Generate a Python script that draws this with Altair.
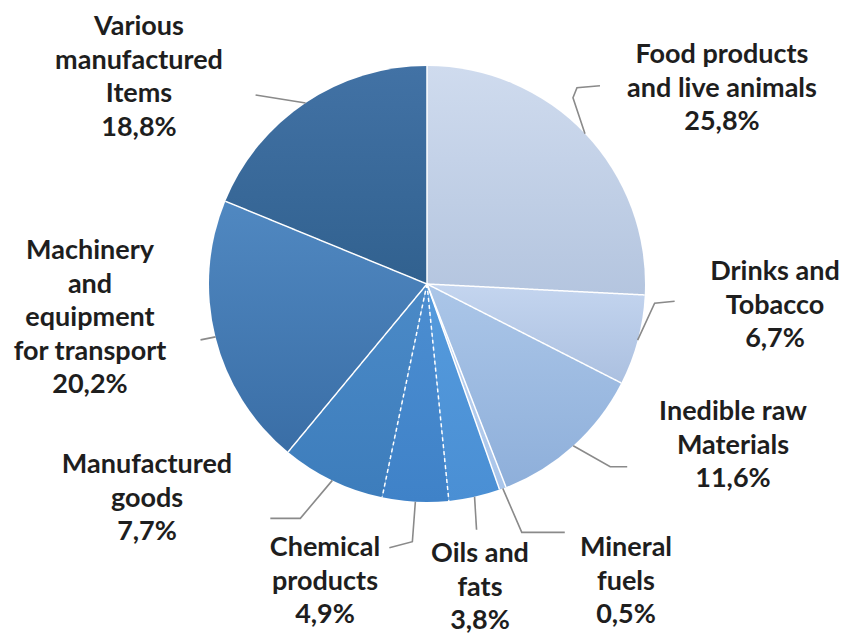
import altair as alt
import pandas as pd
import numpy as np

# ---------------- data ----------------
categories = [
    "Food products and live animals",
    "Drinks and Tobacco",
    "Inedible raw Materials",
    "Mineral fuels",
    "Oils and fats",
    "Chemical products",
    "Manufactured goods",
    "Machinery and equipment for transport",
    "Various manufactured Items",
]
shares = [25.8, 6.7, 11.6, 0.5, 3.8, 4.9, 7.7, 20.2, 18.8]
label_lines = [
    ["Food products", "and live animals"],
    ["Drinks and", "Tobacco"],
    ["Inedible raw", "Materials"],
    ["Mineral", "fuels"],
    ["Oils and", "fats"],
    ["Chemical", "products"],
    ["Manufactured", "goods"],
    ["Machinery", "and", "equipment", "for transport"],
    ["Various", "manufactured", "Items"],
]

# ---------------- styles ----------------
top_colors = ["#cfdbee", "#c4d5ef", "#abc6e8", "#c2d6f1", "#559bdd",
              "#4c8ed1", "#4b8ac7", "#5088c1", "#4272a5"]
bottom_colors = ["#b4c5df", "#abc0e0", "#8eafda", "#a9c5ea", "#4a8fd4",
                 "#3f82c8", "#3d7dbc", "#3a6ea6", "#31618f"]
dashed_boundaries = ["Chemical products", "Manufactured goods"]  # slices whose start edge is dashed

# ---------------- layout (pixels) ----------------
W, H = 832, 627
R = 218
CX, CY = 419, 276
# first text line centre relative to the pie centre (x right, y down)
label_offsets = [(295, -229), (348, -12), (306, 128), (199, 264), (53, 270),
                 (-102, 264), (-280, 181), (-337, -33), (-288, -257)]
# leader line bend points relative to the slice's edge mid-point (x right, y down)
leader_offsets = [
    [(-12, -36), (-8, -46), (15, -48)],
    [(17, -37), (37, -39)],
    [(37, 21), (54, 21)],
    [(19, 44), (62, 44)],
    [(2, 33)],
    [(-3, 40), (-26, 46)],
    [(-32, 38), (-62, 38)],
    [(-15, 3)],
    [(-50, -8)],
]

# ---------------- derived tables ----------------
vals = np.array(shares)
cum_end = np.cumsum(vals)
cum_start = cum_end - vals
mid = (cum_start + vals / 2) / 100 * 2 * np.pi
start_ang = cum_start / 100 * 2 * np.pi

pie_df = pd.DataFrame({"category": categories, "share": shares, "idx": range(len(categories))})

text_rows = []
for cat, lines, v, (dx, dy) in zip(categories, label_lines, shares, label_offsets):
    pct = f"{v:.1f}".replace(".", ",") + "%"
    text_rows.append({"category": cat, "label": "\n".join(lines + [pct]),
                      "x": dx / R, "y": -dy / R})
text_df = pd.DataFrame(text_rows)

line_rows = []
for i, cat in enumerate(categories):
    sx, sy = np.sin(mid[i]), np.cos(mid[i])
    line_rows.append({"category": cat, "pt": 0, "x": sx, "y": sy})
    for j, (ox, oy) in enumerate(leader_offsets[i]):
        line_rows.append({"category": cat, "pt": j + 1, "x": sx + ox / R, "y": sy - oy / R})
line_df = pd.DataFrame(line_rows)

bound_rows = []
for i, cat in enumerate(categories):
    style = "dashed" if cat in dashed_boundaries else "solid"
    bound_rows.append({"edge": cat, "pt": 0, "x": 0.0, "y": 0.0, "style": style})
    bound_rows.append({"edge": cat, "pt": 1, "x": np.sin(start_ang[i]), "y": np.cos(start_ang[i]), "style": style})
bound_df = pd.DataFrame(bound_rows)

xs = alt.Scale(domain=[-CX / R, (W - CX) / R], nice=False, zero=False)
ys = alt.Scale(domain=[-(H - CY) / R, CY / R], nice=False, zero=False)
ts = alt.Scale(domain=[0, 100])

pie_base = alt.Chart(pie_df).transform_window(
    cum="sum(share)", sort=[alt.SortField("idx")], frame=[None, 0]
).transform_calculate(start="datum.cum - datum.share")

slices = []
for cat, top, bot in zip(categories, top_colors, bottom_colors):
    grad = alt.LinearGradient(
        gradient="linear",
        stops=[alt.GradientStop(color=top, offset=0), alt.GradientStop(color=bot, offset=1)],
        x1=0, y1=0, x2=0, y2=1,
    )
    slices.append(
        pie_base.transform_filter(alt.datum.category == cat)
        .mark_arc(outerRadius=R, strokeWidth=0, fill=grad)
        .encode(
            theta=alt.Theta("start:Q", scale=ts),
            theta2="cum:Q",
            x=alt.XDatum(0, scale=xs, axis=None),
            y=alt.YDatum(0, scale=ys, axis=None),
        )
    )

bounds = alt.Chart(bound_df).mark_line(color="white", strokeWidth=1.5).encode(
    x=alt.X("x:Q", scale=xs, axis=None),
    y=alt.Y("y:Q", scale=ys, axis=None),
    detail="edge:N",
    order="pt:Q",
    strokeDash=alt.StrokeDash("style:N", scale=alt.Scale(domain=["solid", "dashed"], range=[[1, 0], [4, 3]]), legend=None),
)

leaders = alt.Chart(line_df).mark_line(color="#8a8a8a", strokeWidth=1.6).encode(
    x=alt.X("x:Q", scale=xs, axis=None),
    y=alt.Y("y:Q", scale=ys, axis=None),
    detail="category:N",
    order="pt:Q",
)

labels = alt.Chart(text_df).mark_text(
    font="Lato", fontSize=27, fontWeight="bold", color="#1e1e1e",
    lineBreak="\n", lineHeight=33.5, align="center", baseline="middle",
).encode(
    x=alt.X("x:Q", scale=xs, axis=None),
    y=alt.Y("y:Q", scale=ys, axis=None),
    text="label:N",
)

chart = alt.layer(*slices, bounds, leaders, labels).properties(
    width=W, height=H, autosize=alt.AutoSizeParams(type="none"), padding=0,
).configure_view(stroke=None)

chart.save("out.html", embed_options={"renderer": "svg", "actions": False})
